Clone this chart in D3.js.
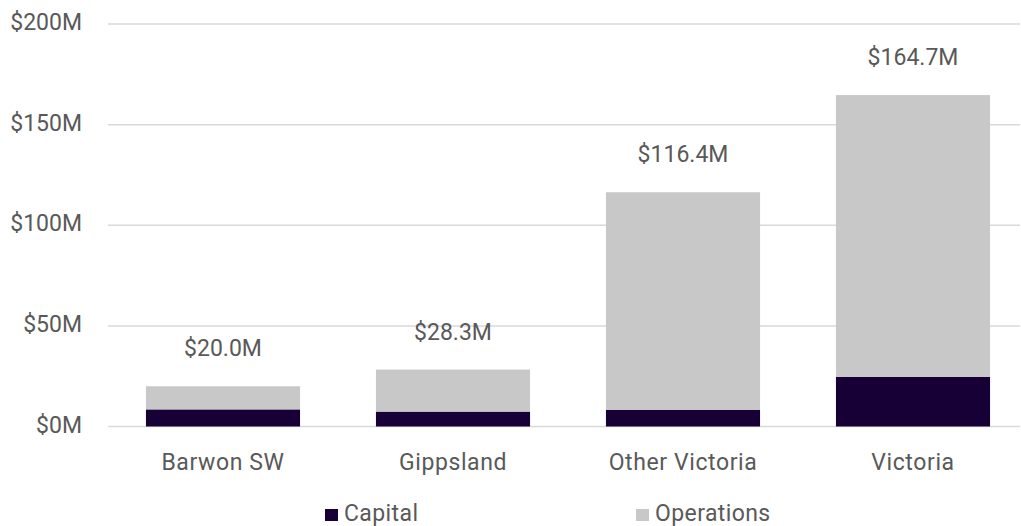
<!DOCTYPE html>
<html>
<head>
<meta charset="utf-8">
<script src="https://cdn.jsdelivr.net/npm/d3@7"></script>
<style>
  body { margin: 0; background: #fff; }
  text { font-family: Roboto, "Liberation Sans", sans-serif; fill: #595959; }
</style>
</head>
<body>
<svg id="chart" width="1021" height="526"></svg>
<script>
// Chart data
const regions = ["Barwon SW", "Gippsland", "Other Victoria", "Victoria"];
const capital = [8.5, 7.4, 8.2, 24.7];
const totals = [20.0, 28.3, 116.4, 164.7];
const operations = totals.map((t, i) => +(t - capital[i]).toFixed(1));
const yTicks = [0, 50, 100, 150, 200];
const seriesNames = ["Capital", "Operations"];
const seriesColors = ["#160035", "#c8c8c8"];

const svg = d3.select("#chart");

const x = d3.scaleBand()
    .domain(regions)
    .range([108, 1028])
    .paddingInner(0.33)
    .paddingOuter(0.165);

const y = d3.scaleLinear()
    .domain([0, 200])
    .range([426.5, 24]);

// Gridlines
svg.append("g")
    .selectAll("line")
    .data(yTicks)
    .join("line")
    .attr("x1", 108)
    .attr("x2", 1020)
    .attr("y1", d => y(d))
    .attr("y2", d => y(d))
    .attr("stroke", "#d9d9d9")
    .attr("stroke-width", 1.5);

// Y axis labels
svg.append("g")
    .selectAll("text")
    .data(yTicks)
    .join("text")
    .attr("x", 82)
    .attr("y", d => y(d) + 6)
    .attr("text-anchor", "end")
    .attr("font-size", 23)
    .text(d => `$${d}M`);

// Stacked bars
const rows = regions.map((r, i) => ({ region: r, Capital: capital[i], Operations: operations[i] }));
const stacked = d3.stack().keys(seriesNames)(rows);

svg.append("g")
    .selectAll("g")
    .data(stacked)
    .join("g")
    .attr("fill", (d, i) => seriesColors[i])
    .selectAll("rect")
    .data(d => d)
    .join("rect")
    .attr("x", d => x(d.data.region))
    .attr("width", x.bandwidth())
    .attr("y", d => y(d[1]))
    .attr("height", d => y(d[0]) - y(d[1]));

// Total labels
svg.append("g")
    .selectAll("text")
    .data(regions)
    .join("text")
    .attr("x", d => x(d) + x.bandwidth() / 2)
    .attr("y", (d, i) => y(totals[i]) - 30)
    .attr("text-anchor", "middle")
    .attr("font-size", 23)
    .text((d, i) => `$${totals[i].toFixed(1)}M`);

// Category labels
svg.append("g")
    .selectAll("text")
    .data(regions)
    .join("text")
    .attr("x", d => x(d) + x.bandwidth() / 2)
    .attr("y", 470)
    .attr("text-anchor", "middle")
    .attr("font-size", 23)
    .attr("letter-spacing", 0.6)
    .text(d => d);

// Legend
const legend = svg.append("g")
    .selectAll("g")
    .data(seriesNames)
    .join("g")
    .attr("transform", (d, i) => `translate(${[325, 636][i]},0)`);

legend.append("rect")
    .attr("y", 509)
    .attr("width", 13)
    .attr("height", 12)
    .attr("fill", (d, i) => seriesColors[i]);

legend.append("text")
    .attr("x", 19)
    .attr("y", 521)
    .attr("font-size", 23)
    .attr("letter-spacing", 0.4)
    .text(d => d);
</script>
</body>
</html>
